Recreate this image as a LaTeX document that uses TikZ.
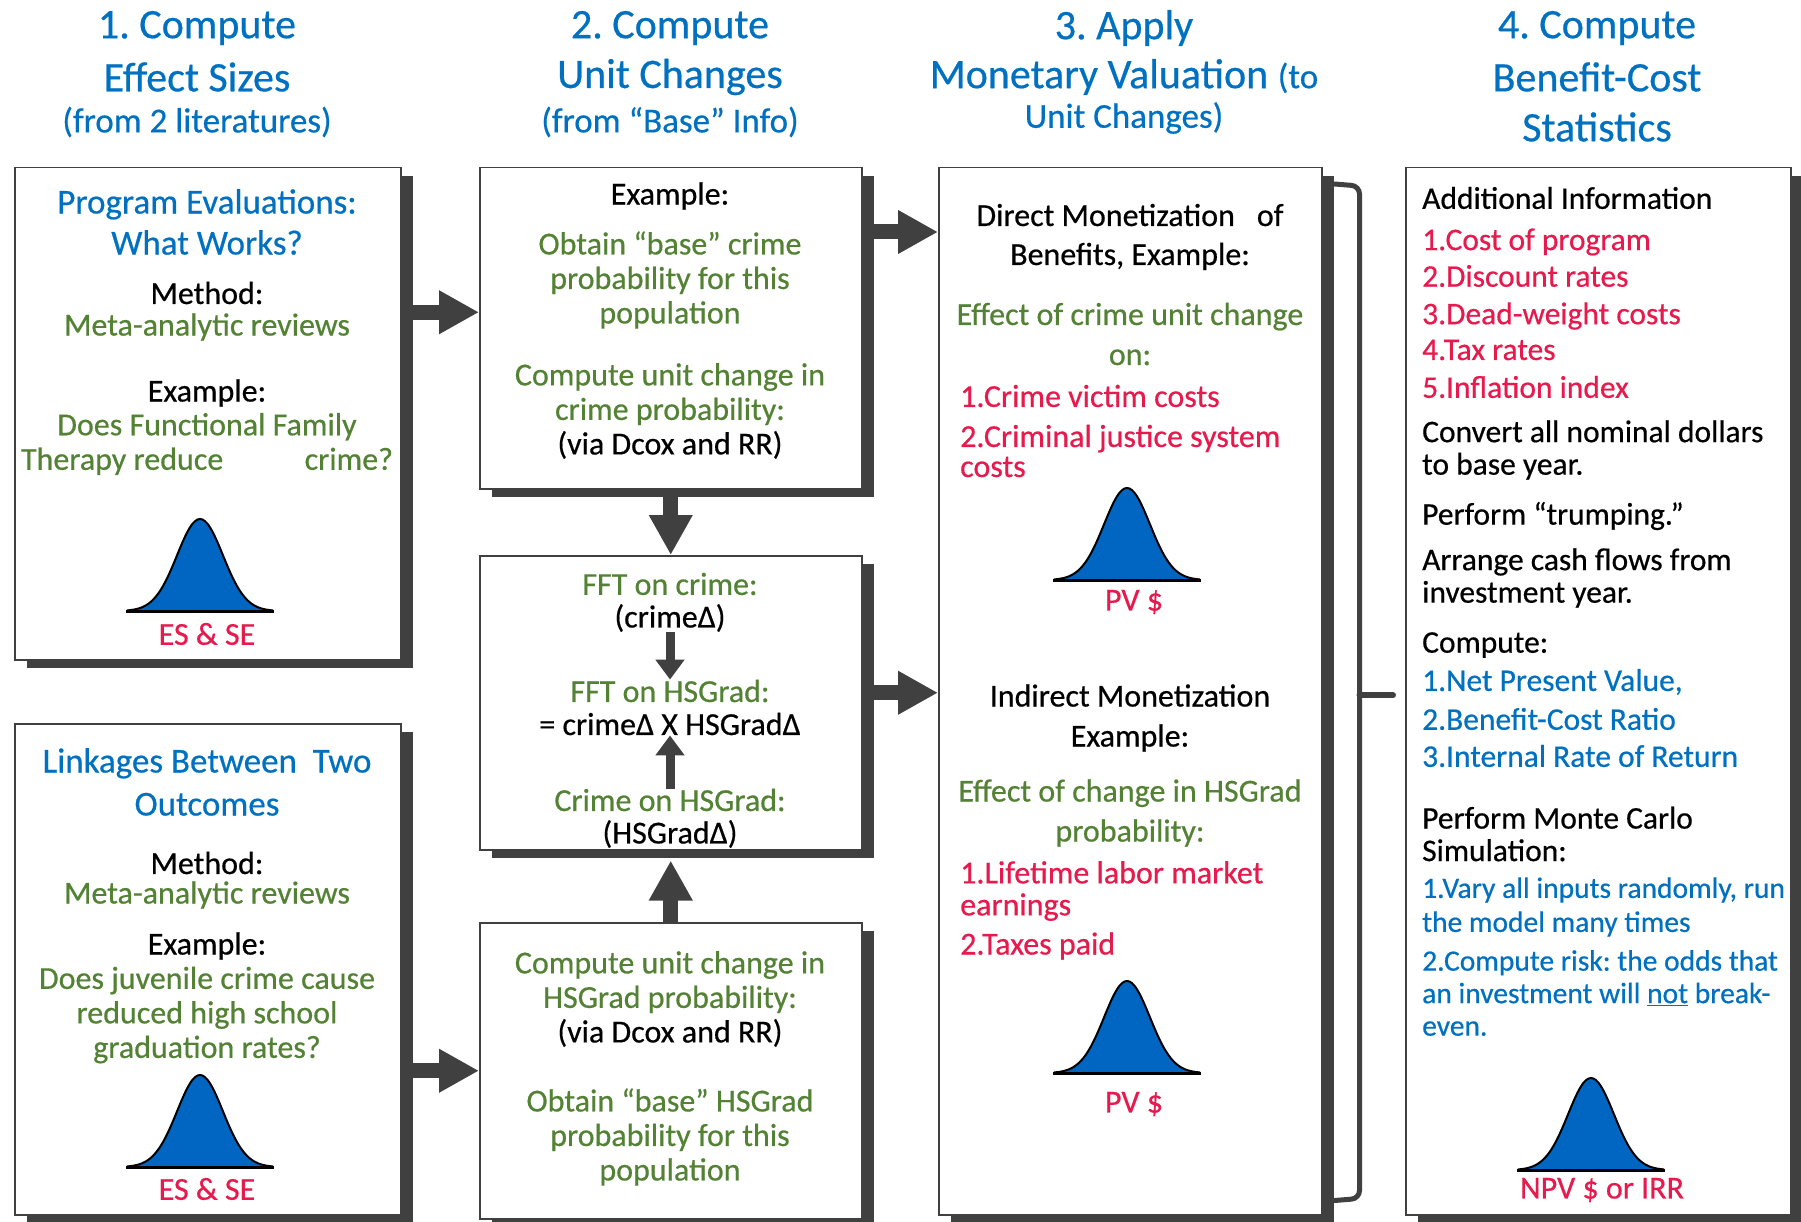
\documentclass[tikz,border=0pt]{standalone}
\usepackage{fontspec}
\setmainfont{Carlito}[FakeBold=0.5]
\definecolor{hdblue}{HTML}{0070C0}
\definecolor{txgreen}{HTML}{548235}
\definecolor{txred}{HTML}{E61A4D}
\definecolor{shgray}{HTML}{404040}
\definecolor{bellblue}{HTML}{0066C2}
\usetikzlibrary{arrows.meta, shadows}
\frenchspacing

\begin{document}
\begin{tikzpicture}[
  x=1pt, y=-1pt,
  panel/.style={
    draw=shgray, line width=1.5pt, fill=white, anchor=north west, inner sep=0pt,
    drop shadow={shadow xshift=12pt, shadow yshift=-8pt, fill=shgray, opacity=1}
  },
  hd/.style={inner sep=0pt, text=hdblue, font=\fontsize{42}{50}\selectfont},
  hdsmall/.style={inner sep=0pt, text=hdblue, font=\fontsize{35}{42}\selectfont},
  ttl/.style={inner sep=0pt, align=center, text=hdblue, font=\fontsize{35}{41}\selectfont},
  txt/.style={inner sep=0pt, align=center, font=\fontsize{32}{34.5}\selectfont},
  gtxt/.style={txt, text=txgreen},
  rtxt/.style={txt, text=txred},
  lst/.style={inner sep=0pt, anchor=west, align=left, font=\fontsize{31.5}{32.5}\selectfont},
  fat/.style={line width=15pt, shgray, -{Triangle[length=40pt, width=41pt]}},
  slim/.style={line width=9pt, shgray, -{Triangle[length=20pt, width=28pt]}},
  brace/.style={line width=5pt, shgray, line cap=round},
  bell/.pic={
    \fill[bellblue] plot[domain=-73:73, samples=61, smooth] (\x,{-92*exp(-(\x*\x)/1050)}) -- cycle;
    \draw[line width=2pt] plot[domain=-73:73, samples=61, smooth] (\x,{-92*exp(-(\x*\x)/1050)});
    \draw[line width=3pt] (-74,0) -- (74,0);
  }
]
\useasboundingbox (0,0) rectangle (1801,1222);

% Column headings
\node[hd] (h1a) at (197,28) {1. Compute};
\node[hd] (h1b) at (197,77) {Effect Sizes};
\node[hdsmall] (h1c) at (197,122) {(from 2 literatures)};
\node[hd] (h2a) at (670,28) {2. Compute};
\node[hd] (h2b) at (670,77) {Unit Changes};
\node[hdsmall] (h2c) at (670,122) {(from “Base” Info)};
\node[hd] (h3a) at (1124,28) {3. Apply};
\node[hd] (h3b) at (1124,77) {Monetary Valuation {\fontsize{35}{42}\selectfont(to}};
\node[hdsmall] (h3c) at (1124,118) {Unit Changes)};
\node[hd] (h4a) at (1597,28) {4. Compute};
\node[hd] (h4b) at (1597,77) {Benefit-Cost};
\node[hd] (h4c) at (1597,127) {Statistics};

% Panels
\node[panel, minimum width=386pt, minimum height=492pt] (pe) at (14,167) {};
\node[panel, minimum width=386pt, minimum height=491pt] (pl) at (14,723) {};
\node[panel, minimum width=382pt, minimum height=321pt] (uc-crime) at (479,167) {};
\node[panel, minimum width=382pt, minimum height=294pt] (uc-link) at (479,555) {};
\node[panel, minimum width=382pt, minimum height=296pt] (uc-grad) at (479,922) {};
\node[panel, minimum width=383pt, minimum height=1047pt] (dm) at (938,167) {};
\node[panel, minimum width=385pt, minimum height=1047pt] (bc) at (1405,167) {};

% Program evaluations
\node[ttl] (pe-title) at (207,222) {Program Evaluations:\\What Works?};
\node[txt] (pe-m) at (207,293) {Method:};
\node[gtxt] (pe-mv) at (207,327) {Meta-analytic reviews};
\node[txt] (pe-e) at (207,393) {Example:};
\node[gtxt] (pe-ev) at (207,444)
  {Does Functional Family\\\makebox[372pt]{Therapy reduce\hfill crime?}};
\pic at (200,611) {bell};
\node[rtxt] (pe-es) at (207,634) {ES \& SE};

% Linkages between two outcomes
\node[ttl, font=\fontsize{35}{43}\selectfont] (pl-title) at (207,782) {Linkages Between\ \ Two\\Outcomes};
\node[txt] (pl-m) at (207,863) {Method:};
\node[gtxt] (pl-mv) at (207,895) {Meta-analytic reviews};
\node[txt] (pl-e) at (207,946) {Example:};
\node[gtxt] (pl-ev) at (207,1015) {Does juvenile crime cause\\reduced high school\\graduation rates?};
\pic at (200,1167) {bell};
\node[rtxt] (pl-es) at (207,1189) {ES \& SE};

% Unit changes: crime
\node[txt] (uc-ex) at (670,196) {Example:};
\node[gtxt] (uc-base) at (670,280) {Obtain “base” crime\\probability for this\\population};
\node[gtxt] (uc-comp) at (670,411)
  {Compute unit change in\\crime probability:\\{\color{black}(via Dcox and RR)}};

% Unit changes: linkage
\node[gtxt] (ul-c1) at (670,584) {FFT on crime:};
\node[txt] (ul-c2) at (670,618) {(crimeΔ)};
\node[gtxt] (ul-g1) at (670,691) {FFT on HSGrad:};
\node[txt] (ul-g2) at (670,724) {= crimeΔ X HSGradΔ};
\node[gtxt] (ul-h1) at (670,800) {Crime on HSGrad:};
\node[txt] (ul-h2) at (670,834) {(HSGradΔ)};
\draw[slim] (ul-c2) -- (ul-g1);
\draw[slim] (ul-h1) -- (ul-g2);

% Unit changes: HS graduation
\node[gtxt] (ug-comp) at (670,999)
  {Compute unit change in\\HSGrad probability:\\{\color{black}(via Dcox and RR)}};
\node[gtxt] (ug-base) at (670,1137) {Obtain “base” HSGrad\\probability for this\\population};

% Monetary valuation
\node[txt, font=\fontsize{32}{39}\selectfont] (dm-t) at (1130,237)
  {Direct Monetization\hspace{22pt}of\\Benefits, Example:};
\node[gtxt, font=\fontsize{32}{40}\selectfont] (dm-e) at (1130,334) {Effect of crime unit change\\on:};
\node[lst, text=txred, font=\fontsize{32}{30}\selectfont] (dm-l1) at (960,396) {1.Crime victim costs};
\node[lst, text=txred, font=\fontsize{32}{30}\selectfont] (dm-l2) at (960,451) {2.Criminal justice system\\costs};
\pic at (1127,580) {bell};
\node[rtxt] (dm-pv1) at (1134,602) {PV \$};
\node[txt, font=\fontsize{32}{40}\selectfont] (dm-ind) at (1130,718) {Indirect Monetization\\Example:};
\node[gtxt, font=\fontsize{32}{40}\selectfont] (dm-e2) at (1130,813) {Effect of change in HSGrad\\probability:};
\node[lst, text=txred, font=\fontsize{32}{32}\selectfont] (dm-l3) at (960,891) {1.Lifetime labor market\\earnings};
\node[lst, text=txred, font=\fontsize{32}{32}\selectfont] (dm-l4) at (960,946) {2.Taxes paid};
\pic at (1127,1073) {bell};
\node[rtxt] (dm-pv2) at (1134,1104) {PV \$};

% Benefit-cost statistics
\node[lst] (bc-add) at (1422,198) {Additional Information};
\node[lst, text=txred] (bc-a1) at (1422,242) {1.Cost of program};
\node[lst, text=txred] (bc-a2) at (1422,276) {2.Discount rates};
\node[lst, text=txred] (bc-a3) at (1422,316) {3.Dead-weight costs};
\node[lst, text=txred] (bc-a4) at (1422,350) {4.Tax rates};
\node[lst, text=txred] (bc-a5) at (1422,387) {5.Inflation index};
\node[lst] (bc-conv) at (1422,450) {Convert all nominal dollars\\to base year.};
\node[lst] (bc-trump) at (1422,516) {Perform “trumping.”};
\node[lst] (bc-cash) at (1422,578) {Arrange cash flows from\\investment year.};
\node[lst] (bc-comp) at (1422,645) {Compute:};
\node[lst, text=hdblue] (bc-c1) at (1422,682) {1.Net Present Value,};
\node[lst, text=hdblue] (bc-c2) at (1422,719) {2.Benefit-Cost Ratio};
\node[lst, text=hdblue] (bc-c3) at (1422,756) {3.Internal Rate of Return};
\node[lst] (bc-mc) at (1422,834) {Perform Monte Carlo\\Simulation:};
\node[lst, text=hdblue, font=\fontsize{29.5}{34}\selectfont] (bc-m1) at (1422,907)
  {1.Vary all inputs randomly, run\\the model many times};
\node[lst, text=hdblue, font=\fontsize{29.5}{32.5}\selectfont] (bc-m2) at (1422,993)
  {2.Compute risk: the odds that\\an investment will \underline{not} break-\\even.};
\pic at (1591,1170) {bell};
\node[rtxt] (bc-npv) at (1602,1190) {NPV \$ or IRR};

% Flow arrows
\coordinate (uc-in) at ([yshift=16pt]uc-crime.west);
\draw[fat] (pe.east |- uc-in) -- (uc-in);
\draw[fat] (pl.east |- uc-grad.west) -- (uc-grad.west);
\coordinate (dm-in) at ([yshift=-65pt]dm.north west);
\draw[fat] (uc-crime.east |- dm-in) -- (dm-in);
\coordinate (dm-in2) at ([yshift=10pt]uc-link.east -| dm.west);
\draw[fat] (uc-link.east |- dm-in2) -- (dm-in2);
\draw[fat] (uc-crime.south) -- (uc-link.north);
\draw[fat] (uc-grad.north) -- ([yshift=-10pt]uc-link.south);

% Bracket into the statistics
\draw[brace, rounded corners=8pt] ([shift={(12,17)}]dm.north east) -- ([shift={(37,19)}]dm.north east)
  -- ([shift={(37,-17)}]dm.south east) -- ([shift={(12,-15)}]dm.south east);
\coordinate (br-mid) at ([shift={(37,4)}]dm.east);
\draw[brace, line width=6pt] (br-mid) -- ([xshift=-12pt]bc.west |- br-mid);

\end{tikzpicture}
\end{document}
